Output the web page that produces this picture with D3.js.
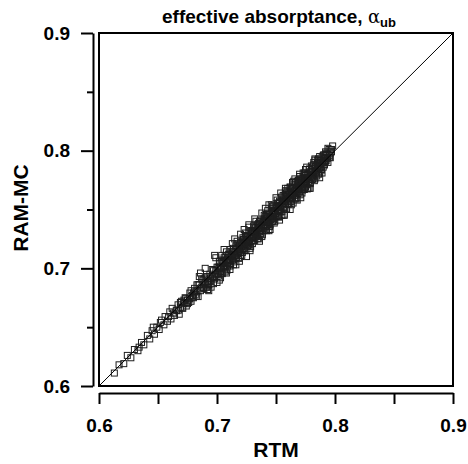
<!DOCTYPE html>
<html>
<head>
<meta charset="utf-8">
<script src="https://cdn.jsdelivr.net/npm/d3@7"></script>
<style>
  body { margin: 0; background: #fff; }
  text { font-family: "Liberation Sans", Arial, sans-serif; }
</style>
</head>
<body>
<div id="chart"></div>
<script>
// axis range and ticks
var domain = [0.6, 0.9]
var majorTicks = [0.6, 0.7, 0.8, 0.9]
var minorTicks = [0.65, 0.75, 0.85]
var allTicks = [0.6, 0.65, 0.7, 0.75, 0.8, 0.85, 0.9]

// [RTM, RAM-MC] pairs, low end of the cloud
var lowPts = [
  [0.613, 0.611], [0.617, 0.618], [0.621, 0.619], [0.624, 0.626], [0.627, 0.624],
  [0.630, 0.631], [0.633, 0.630], [0.636, 0.637], [0.638, 0.635], [0.641, 0.643],
  [0.643, 0.640], [0.645, 0.647], [0.647, 0.644], [0.649, 0.650], [0.651, 0.648],
  [0.653, 0.656], [0.655, 0.652], [0.656, 0.659], [0.658, 0.655], [0.660, 0.663],
  [0.661, 0.657], [0.663, 0.662], [0.664, 0.660], [0.646, 0.650], [0.652, 0.654],
  [0.634, 0.633], [0.659, 0.659], [0.662, 0.666]
]

// middle of the cloud
var midPts = [
  [0.666, 0.664], [0.667, 0.669], [0.668, 0.661], [0.669, 0.667], [0.670, 0.672],
  [0.671, 0.666], [0.672, 0.670], [0.673, 0.675], [0.674, 0.668], [0.675, 0.673],
  [0.676, 0.671], [0.677, 0.679], [0.678, 0.672], [0.679, 0.677], [0.680, 0.675],
  [0.681, 0.683], [0.682, 0.678], [0.683, 0.680], [0.684, 0.676], [0.685, 0.686],
  [0.686, 0.681], [0.686, 0.696], [0.687, 0.684], [0.688, 0.690], [0.689, 0.683],
  [0.690, 0.687], [0.691, 0.693], [0.691, 0.684], [0.692, 0.689], [0.693, 0.686],
  [0.694, 0.695], [0.695, 0.690], [0.695, 0.684], [0.696, 0.693], [0.697, 0.698],
  [0.698, 0.691], [0.698, 0.711], [0.699, 0.695], [0.700, 0.688], [0.700, 0.701],
  [0.677, 0.674], [0.683, 0.686], [0.689, 0.691], [0.694, 0.689], [0.697, 0.687],
  [0.672, 0.673], [0.680, 0.679],
  [0.6655, 0.6645], [0.6675, 0.6645], [0.6690, 0.6710], [0.6705, 0.6665], [0.6720, 0.6710],
  [0.6735, 0.6745], [0.6750, 0.6700], [0.6765, 0.6745], [0.6780, 0.6810], [0.6795, 0.6755],
  [0.6810, 0.6800], [0.6825, 0.6765], [0.6840, 0.6860], [0.6855, 0.6825], [0.6870, 0.6910],
  [0.6885, 0.6835], [0.6900, 0.6880], [0.6915, 0.6925], [0.6930, 0.6860], [0.6945, 0.6915],
  [0.6960, 0.6990], [0.6975, 0.6925], [0.6990, 0.6980], [0.6850, 0.6930], [0.6920, 0.6820]
]

// dense upper part, outer spread
var highPts = [
  [0.701, 0.695], [0.702, 0.706], [0.702, 0.690], [0.703, 0.701], [0.704, 0.711],
  [0.704, 0.696], [0.705, 0.705], [0.706, 0.701], [0.706, 0.709], [0.707, 0.697],
  [0.708, 0.707], [0.708, 0.714], [0.709, 0.705], [0.709, 0.702], [0.710, 0.712],
  [0.710, 0.707],
  [0.711, 0.702], [0.711, 0.716], [0.712, 0.710], [0.713, 0.707], [0.713, 0.721],
  [0.714, 0.714], [0.714, 0.703], [0.715, 0.711], [0.716, 0.719], [0.716, 0.709],
  [0.717, 0.716], [0.717, 0.723], [0.718, 0.713], [0.718, 0.709], [0.719, 0.720],
  [0.719, 0.716], [0.720, 0.729], [0.720, 0.714],
  [0.721, 0.719], [0.721, 0.711], [0.722, 0.726], [0.722, 0.717], [0.723, 0.723],
  [0.723, 0.715], [0.724, 0.730], [0.724, 0.721], [0.725, 0.710], [0.725, 0.724],
  [0.726, 0.728], [0.726, 0.719], [0.727, 0.723], [0.727, 0.735], [0.728, 0.717],
  [0.728, 0.726], [0.729, 0.732], [0.729, 0.723], [0.730, 0.730], [0.730, 0.721],
  [0.731, 0.736], [0.731, 0.727], [0.732, 0.731], [0.732, 0.724], [0.733, 0.740],
  [0.733, 0.730], [0.734, 0.728], [0.734, 0.736], [0.735, 0.725], [0.735, 0.735],
  [0.736, 0.731], [0.736, 0.740], [0.737, 0.735], [0.737, 0.729], [0.738, 0.747],
  [0.738, 0.734], [0.739, 0.740], [0.739, 0.732], [0.740, 0.739], [0.740, 0.745],
  [0.735, 0.738], [0.738, 0.727],
  [0.741, 0.735], [0.741, 0.744], [0.742, 0.739], [0.742, 0.732], [0.743, 0.749],
  [0.743, 0.743], [0.744, 0.739], [0.744, 0.746], [0.745, 0.737], [0.745, 0.743],
  [0.746, 0.754], [0.746, 0.742], [0.747, 0.748], [0.747, 0.740], [0.748, 0.747],
  [0.748, 0.753], [0.749, 0.740], [0.749, 0.746], [0.750, 0.753], [0.750, 0.744],
  [0.742, 0.746], [0.744, 0.732], [0.747, 0.753], [0.749, 0.749],
  [0.751, 0.749], [0.751, 0.758], [0.752, 0.744], [0.752, 0.752], [0.753, 0.757],
  [0.753, 0.748], [0.754, 0.753], [0.754, 0.764], [0.755, 0.745], [0.755, 0.757],
  [0.756, 0.752], [0.756, 0.762], [0.757, 0.750], [0.757, 0.757], [0.758, 0.761],
  [0.758, 0.755], [0.759, 0.750], [0.759, 0.764], [0.760, 0.759], [0.760, 0.768],
  [0.752, 0.755], [0.754, 0.748], [0.756, 0.757], [0.757, 0.746], [0.758, 0.765],
  [0.760, 0.755],
  [0.761, 0.755], [0.761, 0.763], [0.762, 0.760], [0.762, 0.769], [0.763, 0.754],
  [0.763, 0.763], [0.764, 0.768], [0.764, 0.760], [0.765, 0.774], [0.765, 0.764],
  [0.766, 0.759], [0.766, 0.771], [0.767, 0.764], [0.767, 0.768], [0.768, 0.758],
  [0.768, 0.774], [0.769, 0.767], [0.769, 0.772], [0.770, 0.765], [0.770, 0.778],
  [0.762, 0.757], [0.764, 0.773], [0.766, 0.766], [0.767, 0.759], [0.769, 0.775],
  [0.770, 0.770],
  [0.771, 0.768], [0.771, 0.776], [0.772, 0.764], [0.772, 0.773], [0.773, 0.781],
  [0.773, 0.769], [0.774, 0.774], [0.774, 0.767], [0.775, 0.779], [0.775, 0.773],
  [0.776, 0.786], [0.776, 0.771], [0.777, 0.779], [0.777, 0.768], [0.778, 0.784],
  [0.778, 0.777], [0.779, 0.773], [0.779, 0.782], [0.780, 0.787], [0.780, 0.777],
  [0.772, 0.776], [0.774, 0.780], [0.776, 0.777], [0.778, 0.768],
  [0.781, 0.782], [0.781, 0.776], [0.782, 0.788], [0.782, 0.780], [0.783, 0.792],
  [0.783, 0.776], [0.784, 0.787], [0.784, 0.781], [0.785, 0.785], [0.785, 0.792],
  [0.786, 0.780], [0.786, 0.790], [0.787, 0.786], [0.787, 0.795], [0.788, 0.784],
  [0.788, 0.790], [0.789, 0.794], [0.789, 0.781], [0.790, 0.790], [0.790, 0.796],
  [0.791, 0.788], [0.791, 0.794], [0.792, 0.799], [0.792, 0.791], [0.793, 0.797],
  [0.794, 0.790], [0.794, 0.802], [0.795, 0.796], [0.796, 0.801], [0.796, 0.794],
  [0.797, 0.799], [0.798, 0.804]
]

// dense core of the cloud, 0.70 - 0.75
var coreLowPts = [
  [0.7005, 0.6955], [0.7010, 0.7010], [0.7015, 0.6935], [0.7020, 0.7000], [0.7025, 0.7045],
  [0.7030, 0.6970], [0.7035, 0.7005], [0.7040, 0.7070], [0.7045, 0.6955], [0.7050, 0.7040],
  [0.7055, 0.7015], [0.7060, 0.7070], [0.7065, 0.6995], [0.7070, 0.7110], [0.7075, 0.7025],
  [0.7080, 0.7060], [0.7085, 0.6985], [0.7090, 0.7090], [0.7095, 0.7065], [0.7100, 0.7120],
  [0.7105, 0.7055], [0.7110, 0.7110], [0.7115, 0.7035], [0.7120, 0.7100], [0.7125, 0.7145],
  [0.7130, 0.7070], [0.7135, 0.7105], [0.7140, 0.7170], [0.7145, 0.7055], [0.7150, 0.7140],
  [0.7155, 0.7115], [0.7160, 0.7170], [0.7165, 0.7095], [0.7170, 0.7210], [0.7175, 0.7125],
  [0.7180, 0.7160], [0.7185, 0.7085], [0.7190, 0.7190], [0.7195, 0.7165], [0.7200, 0.7220],
  [0.7205, 0.7155], [0.7210, 0.7210], [0.7215, 0.7135], [0.7220, 0.7200], [0.7225, 0.7245],
  [0.7230, 0.7170], [0.7235, 0.7205], [0.7240, 0.7270], [0.7245, 0.7155], [0.7250, 0.7240],
  [0.7255, 0.7215], [0.7260, 0.7270], [0.7265, 0.7195], [0.7270, 0.7310], [0.7275, 0.7225],
  [0.7280, 0.7260], [0.7285, 0.7185], [0.7290, 0.7290], [0.7295, 0.7265], [0.7300, 0.7320],
  [0.7305, 0.7255], [0.7310, 0.7310], [0.7315, 0.7235], [0.7320, 0.7300], [0.7325, 0.7345],
  [0.7330, 0.7270], [0.7335, 0.7305], [0.7340, 0.7370], [0.7345, 0.7255], [0.7350, 0.7340],
  [0.7355, 0.7315], [0.7360, 0.7370], [0.7365, 0.7295], [0.7370, 0.7410], [0.7375, 0.7325],
  [0.7380, 0.7360], [0.7385, 0.7285], [0.7390, 0.7390], [0.7395, 0.7365], [0.7400, 0.7420],
  [0.7405, 0.7355], [0.7410, 0.7410], [0.7415, 0.7335], [0.7420, 0.7400], [0.7425, 0.7445],
  [0.7430, 0.7370], [0.7435, 0.7405], [0.7440, 0.7470], [0.7445, 0.7355], [0.7450, 0.7440],
  [0.7455, 0.7415], [0.7460, 0.7470], [0.7465, 0.7395], [0.7470, 0.7510], [0.7475, 0.7425],
  [0.7480, 0.7460], [0.7485, 0.7385], [0.7490, 0.7490], [0.7495, 0.7465], [0.7500, 0.7520]
]

// dense core of the cloud, 0.75 - 0.80
var coreHighPts = [
  [0.7505, 0.7515], [0.7510, 0.7450], [0.7515, 0.7555], [0.7520, 0.7500], [0.7525, 0.7435],
  [0.7530, 0.7560], [0.7535, 0.7535], [0.7540, 0.7500], [0.7545, 0.7605], [0.7550, 0.7480],
  [0.7555, 0.7545], [0.7560, 0.7580], [0.7565, 0.7515], [0.7570, 0.7620], [0.7575, 0.7545],
  [0.7580, 0.7660], [0.7585, 0.7505], [0.7590, 0.7590], [0.7595, 0.7625], [0.7600, 0.7580],
  [0.7605, 0.7545], [0.7610, 0.7650], [0.7615, 0.7605], [0.7620, 0.7690], [0.7625, 0.7635],
  [0.7630, 0.7570], [0.7635, 0.7675], [0.7640, 0.7620], [0.7645, 0.7555], [0.7650, 0.7680],
  [0.7655, 0.7655], [0.7660, 0.7620], [0.7665, 0.7725], [0.7670, 0.7600], [0.7675, 0.7665],
  [0.7680, 0.7700], [0.7685, 0.7635], [0.7690, 0.7740], [0.7695, 0.7665], [0.7700, 0.7780],
  [0.7705, 0.7625], [0.7710, 0.7710], [0.7715, 0.7745], [0.7720, 0.7700], [0.7725, 0.7665],
  [0.7730, 0.7770], [0.7735, 0.7725], [0.7740, 0.7810], [0.7745, 0.7755], [0.7750, 0.7690],
  [0.7755, 0.7795], [0.7760, 0.7740], [0.7765, 0.7675], [0.7770, 0.7800], [0.7775, 0.7775],
  [0.7780, 0.7740], [0.7785, 0.7845], [0.7790, 0.7720], [0.7795, 0.7785], [0.7800, 0.7820],
  [0.7805, 0.7755], [0.7810, 0.7860], [0.7815, 0.7785], [0.7820, 0.7900], [0.7825, 0.7745],
  [0.7830, 0.7830], [0.7835, 0.7865], [0.7840, 0.7820], [0.7845, 0.7785], [0.7850, 0.7890],
  [0.7855, 0.7845], [0.7860, 0.7930], [0.7865, 0.7875], [0.7870, 0.7810], [0.7875, 0.7915],
  [0.7880, 0.7860], [0.7885, 0.7835], [0.7890, 0.7920], [0.7895, 0.7895], [0.7900, 0.7860],
  [0.7905, 0.7965], [0.7910, 0.7880], [0.7915, 0.7935], [0.7920, 0.7960], [0.7925, 0.7915],
  [0.7930, 0.7980], [0.7935, 0.7935], [0.7940, 0.7970], [0.7950, 0.8010], [0.7955, 0.7945],
  [0.7960, 0.7980], [0.7970, 0.8010]
]

// scattered markers on both edges of the band
var edgePts = [
  [0.690, 0.700], [0.693, 0.681], [0.699, 0.709], [0.703, 0.692], [0.706, 0.716],
  [0.711, 0.699], [0.715, 0.725], [0.719, 0.706], [0.723, 0.733], [0.728, 0.715],
  [0.732, 0.742], [0.736, 0.723], [0.741, 0.751], [0.745, 0.733], [0.750, 0.760],
  [0.753, 0.741], [0.758, 0.768], [0.762, 0.750], [0.766, 0.776], [0.771, 0.760],
  [0.775, 0.784], [0.779, 0.768], [0.783, 0.793], [0.787, 0.777], [0.708, 0.696],
  [0.727, 0.737], [0.744, 0.754], [0.757, 0.745], [0.770, 0.780], [0.716, 0.703]
]

var width = 468
var height = 464

var margin = {
  top: 33,
  left: 99,
  bottom: 78,
  right: 15
}

var svg = d3.select('#chart').append('svg')
  .attr('width', width)
  .attr('height', height)

var x = d3.scaleLinear()
  .domain(domain)
  .range([margin.left, width - margin.right])

var y = d3.scaleLinear()
  .domain(domain)
  .range([height - margin.bottom, margin.top])

// title
var title = svg.append('text')
  .attr('x', 279)
  .attr('y', 23)
  .attr('text-anchor', 'middle')
  .style('font-size', '19px')
  .style('font-weight', 'bold')
title.append('tspan').text('effective absorptance, ')
title.append('tspan')
  .style('font-family', '"DejaVu Serif", serif')
  .style('font-weight', 'normal')
  .style('font-size', '18px')
  .text('α')
title.append('tspan')
  .attr('dy', 4)
  .style('font-size', '13px')
  .text('ub')

// points
var pts = lowPts.concat(midPts, highPts, coreLowPts, coreHighPts, edgePts)
var sq = 6
svg.append('g')
  .selectAll('rect')
  .data(pts)
  .join('rect')
  .attr('x', d => x(d[0]) - sq / 2)
  .attr('y', d => y(d[1]) - sq / 2)
  .attr('width', sq)
  .attr('height', sq)
  .attr('fill', 'none')
  .attr('stroke', '#1e1e1e')
  .attr('stroke-width', 1)

// 1:1 line
svg.append('line')
  .attr('x1', x(domain[0]))
  .attr('y1', y(domain[0]))
  .attr('x2', x(domain[1]))
  .attr('y2', y(domain[1]))
  .attr('stroke', 'black')
  .attr('stroke-width', 1)

// plot frame
svg.append('rect')
  .attr('x', x(domain[0]))
  .attr('y', y(domain[1]))
  .attr('width', x(domain[1]) - x(domain[0]))
  .attr('height', y(domain[0]) - y(domain[1]))
  .attr('fill', 'none')
  .attr('stroke', 'black')
  .attr('stroke-width', 2)

// detached y axis
var yAxisX = x(domain[0]) - 6
var yg = svg.append('g').attr('transform', 'translate(' + yAxisX + ',0)')
yg.call(d3.axisLeft(y).tickValues(majorTicks).tickSize(12).tickSizeOuter(0)
  .tickPadding(11).tickFormat(d3.format('.1f')))
yg.append('g').call(d3.axisLeft(y).tickValues(minorTicks).tickSize(6).tickSizeOuter(0)
  .tickFormat(''))
  .select('.domain').remove()

// detached x axis
var xAxisY = y(domain[0]) + 7
var xg = svg.append('g').attr('transform', 'translate(0,' + xAxisY + ')')
xg.call(d3.axisBottom(x).tickValues(allTicks).tickSize(11).tickSizeOuter(0)
  .tickPadding(15).tickFormat(d => majorTicks.indexOf(d) >= 0 ? d3.format('.1f')(d) : ''))

svg.selectAll('.domain, .tick line')
  .attr('stroke', 'black')
  .attr('stroke-width', 2)
svg.selectAll('.tick text')
  .style('font-family', '"Liberation Sans", Arial, sans-serif')
  .style('font-size', '19px')
  .style('font-weight', 'bold')
  .attr('fill', 'black')

// axis titles
svg.append('text')
  .attr('x', 276)
  .attr('y', 457)
  .attr('text-anchor', 'middle')
  .style('font-size', '21px')
  .style('font-weight', 'bold')
  .text('RTM')

svg.append('text')
  .attr('transform', 'translate(28,208) rotate(-90)')
  .attr('text-anchor', 'middle')
  .style('font-size', '21px')
  .style('font-weight', 'bold')
  .text('RAM-MC')
</script>
</body>
</html>
